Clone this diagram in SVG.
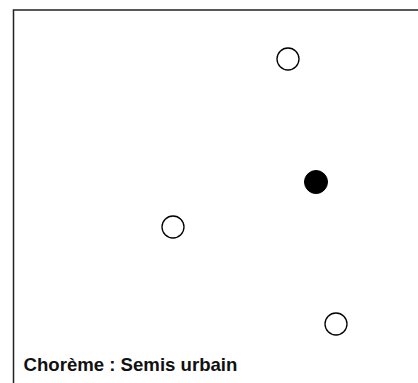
<svg xmlns="http://www.w3.org/2000/svg" width="418" height="383" viewBox="0 0 418 383">
<style>
.frame{fill:none;stroke:#222;stroke-width:1.5}
.open{fill:#fff;stroke:#000;stroke-width:1.3}
.full{fill:#000;stroke:#000;stroke-width:1}
.label{font-family:"Liberation Sans",Arial,sans-serif;font-weight:bold;font-size:18.6px;fill:#111}
</style>
<rect width="418" height="383" fill="#fff"/>
<g id="frame">
<path class="frame" d="M13.5,383 V10 H418"/>
</g>
<g id="node1"><circle class="open" cx="288" cy="59" r="11"/></g>
<g id="node2"><circle class="full" cx="316" cy="182" r="11.5"/></g>
<g id="node3"><circle class="open" cx="173" cy="227" r="11"/></g>
<g id="node4"><circle class="open" cx="336" cy="324" r="11"/></g>
<g id="connectors"></g>
<text class="label" x="23.5" y="371">Chorème : Semis urbain</text>
</svg>
